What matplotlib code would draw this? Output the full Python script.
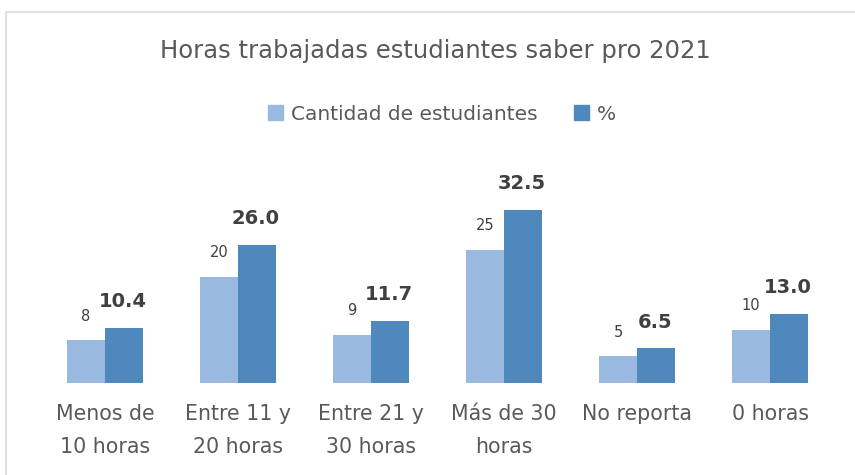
import numpy as np
from matplotlib import pyplot as plt
from matplotlib.patches import Rectangle, Patch

categories = ["Menos de\n10 horas", "Entre 11 y\n20 horas", "Entre 21 y\n30 horas",
              "Más de 30\nhoras", "No reporta", "0 horas"]
cantidad = [8, 20, 9, 25, 5, 10]
porcentaje = [10.4, 26.0, 11.7, 32.5, 6.5, 13.0]

LIGHT = "#9ab9e0"
DARK = "#4f88bc"
TEXT = "#595959"


def main():
    fig = plt.figure(figsize=(8.55, 4.75), dpi=100)
    fig.patches.append(Rectangle((6 / 855, -0.1), 1.2, (475 - 12) / 475 + 0.1,
                                 transform=fig.transFigure, fill=False,
                                 edgecolor="#d9d9d9", linewidth=1.2))

    ax = fig.add_axes([38.5 / 855, 92 / 475, 798 / 855, 191.5 / 475])
    x = np.arange(len(categories))
    w = 38 / 133
    b1 = ax.bar(x - w / 2, cantidad, w, color=LIGHT, label="Cantidad de estudiantes")
    b2 = ax.bar(x + w / 2, porcentaje, w, color=DARK, label="%")

    for rect, v in zip(b1, cantidad):
        ax.annotate(f"{v}", (rect.get_x() + rect.get_width() / 2, rect.get_height()),
                    xytext=(0, 12), textcoords="offset points", ha="center",
                    va="bottom", fontsize=10.5, color="#404040")
    for rect, v in zip(b2, porcentaje):
        ax.annotate(f"{v:.1f}", (rect.get_x() + rect.get_width() / 2, rect.get_height()),
                    xytext=(-1, 12), textcoords="offset points", ha="center",
                    va="bottom", fontsize=14, fontweight="bold", color="#404040")

    ax.set_xlim(-0.5, len(categories) - 0.5)
    ax.set_ylim(0, 36)
    ax.set_yticks([])
    ax.set_xticks(x)
    ax.set_xticklabels(categories, fontsize=14.8, color=TEXT, linespacing=1.85)
    ax.tick_params(axis="x", length=0, pad=15)
    for s in ax.spines.values():
        s.set_visible(False)

    fig.text(435 / 855, 1 - 51 / 475, "Horas trabajadas estudiantes saber pro 2021",
             ha="center", va="center", fontsize=17.5, color=TEXT)

    handles = [Patch(color=LIGHT), Patch(color=DARK)]
    fig.legend(handles, ["Cantidad de estudiantes", "%"], loc="center",
               bbox_to_anchor=(442 / 855, 1 - 114 / 475), ncol=2, frameon=False,
               fontsize=14.5, labelcolor=TEXT, handlelength=0.75, handleheight=0.75,
               handletextpad=0.4, columnspacing=1.8)

    fig.savefig("out.png", dpi=100)
    plt.close(fig)


if __name__ == "__main__":
    main()
